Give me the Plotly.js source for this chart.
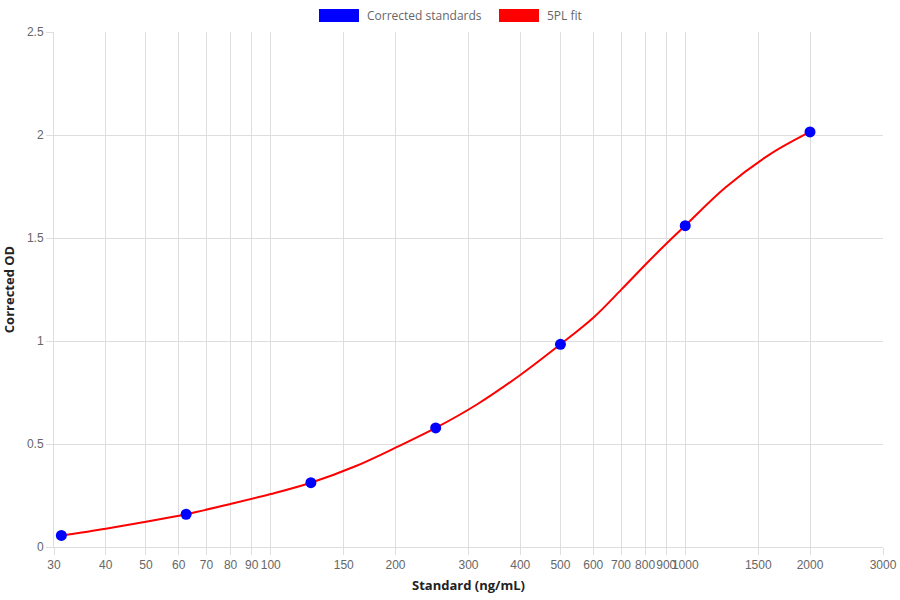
<!DOCTYPE html>
<html>
<head>
<meta charset="utf-8">
<script src="https://cdn.plot.ly/plotly-3.0.1.min.js"></script>
<style>html,body{margin:0;padding:0;background:#fff}#chart{width:900px;height:600px}</style>
</head>
<body>
<div id="chart"></div>
<script>
// Standards (measured points)
const stdConc = [31.25, 62.5, 125, 250, 500, 1000, 2000];
const stdOD = [0.056, 0.159, 0.312, 0.578, 0.984, 1.56, 2.015];

// 5PL fit curve
const fitConc = [31.25, 40, 50, 62.5, 80, 100, 125, 160, 200, 250, 315, 400, 500, 600, 700, 800, 900, 1000, 1250, 1600, 2000];
const fitOD = [0.056, 0.089, 0.123, 0.159, 0.209, 0.257, 0.312, 0.392, 0.482, 0.578, 0.693, 0.835, 0.984, 1.113, 1.248, 1.369, 1.472, 1.56, 1.745, 1.906, 2.015];

// Axis ticks
const xTicks = [30, 40, 50, 60, 70, 80, 90, 100, 150, 200, 300, 400, 500, 600, 700, 800, 900, 1000, 1500, 2000, 3000];
const yTicks = [0, 0.5, 1, 1.5, 2, 2.5];

const legendNames = ["Corrected standards", "5PL fit"];
const legendColors = ["#0000ff", "#ff0000"];

const tickFont = {family: "Liberation Sans, Arial, sans-serif", size: 12, color: "#666"};
const titleFont = {family: "Open Sans, Noto Sans, sans-serif", size: 13, color: "#222", weight: "bold"};
const legendFont = {family: "Open Sans, Noto Sans, sans-serif", size: 12, color: "#666"};

const traces = [
  {
    x: fitConc, y: fitOD, type: "scatter", mode: "lines",
    name: legendNames[1],
    line: {color: legendColors[1], width: 2, shape: "spline", smoothing: 1},
    showlegend: false, hoverinfo: "x+y"
  },
  {
    x: stdConc, y: stdOD, type: "scatter", mode: "markers",
    name: legendNames[0],
    marker: {color: legendColors[0], size: 11},
    showlegend: false, hoverinfo: "x+y"
  }
];

const L = 54, W = 829, T = 32, H = 515;
const px = v => (v - L) / W;
const py = v => 1 + (T - v) / H;

const layout = {
  width: 900, height: 600,
  margin: {l: L, r: 900 - L - W, t: T, b: 600 - T - H},
  paper_bgcolor: "#fff", plot_bgcolor: "#fff",
  showlegend: false,
  xaxis: {
    type: "log",
    range: [Math.log10(30), Math.log10(3000)],
    tickmode: "array", tickvals: xTicks, ticktext: xTicks.map(String),
    tickangle: 0,
    showgrid: true, gridcolor: "#dedede", gridwidth: 1,
    zeroline: false, showline: true, linecolor: "#dedede",
    ticks: "outside", ticklen: 7, tickcolor: "#dedede",
    tickfont: tickFont,
    title: {text: "Standard (ng/mL)", font: titleFont, standoff: 9}
  },
  yaxis: {
    range: [0, 2.5],
    tickmode: "array", tickvals: yTicks, ticktext: yTicks.map(String),
    showgrid: true, gridcolor: "#dedede", gridwidth: 1,
    zeroline: false, showline: true, linecolor: "#dedede",
    ticks: "outside", ticklen: 7, tickcolor: "#dedede",
    tickfont: tickFont,
    title: {text: "Corrected OD", font: titleFont, standoff: 12}
  },
  shapes: [
    {type: "rect", xref: "paper", yref: "paper", x0: px(319), x1: px(359), y0: py(22), y1: py(9), fillcolor: legendColors[0], line: {width: 0}},
    {type: "rect", xref: "paper", yref: "paper", x0: px(499), x1: px(539), y0: py(22), y1: py(9), fillcolor: legendColors[1], line: {width: 0}}
  ],
  annotations: [
    {xref: "paper", yref: "paper", x: px(365), y: py(15.5), xanchor: "left", yanchor: "middle", text: legendNames[0], showarrow: false, font: legendFont},
    {xref: "paper", yref: "paper", x: px(545), y: py(15.5), xanchor: "left", yanchor: "middle", text: legendNames[1], showarrow: false, font: legendFont}
  ]
};

Plotly.newPlot("chart", traces, layout, {displayModeBar: false});
</script>
</body>
</html>
